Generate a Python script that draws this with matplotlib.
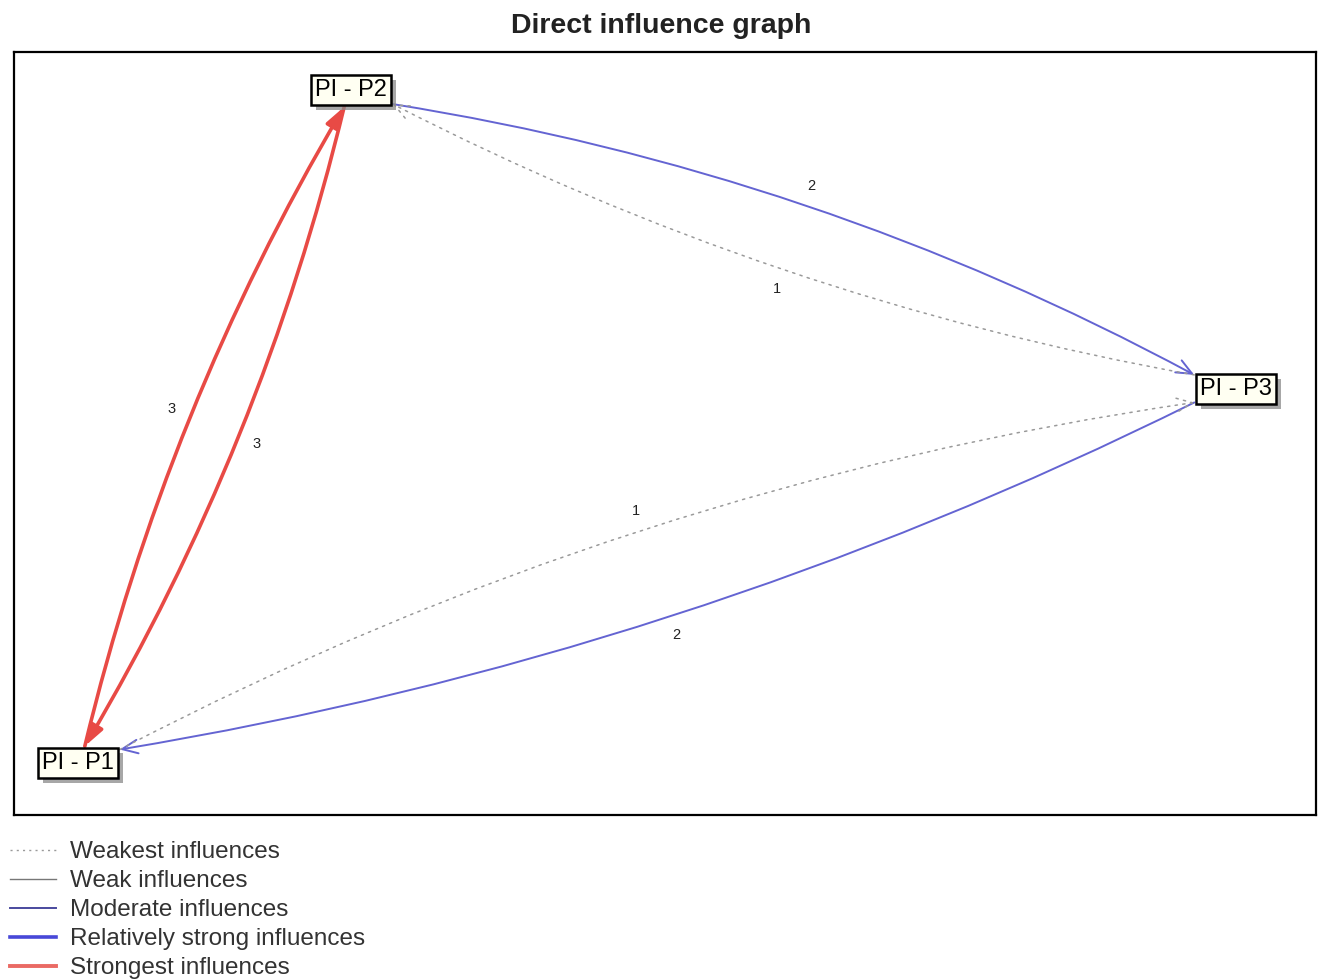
import numpy as np
import matplotlib
matplotlib.use('Agg')
import matplotlib.pyplot as plt
from matplotlib.patches import FancyArrowPatch, Rectangle
from matplotlib.lines import Line2D

plt.rcParams['font.family'] = ['Liberation Sans', 'DejaVu Sans']

# nodes and their place on the map
nodes = ['PI - P1', 'PI - P2', 'PI - P3']
node_x = [78, 351, 1236]
node_y = [763, 90, 389]

# direct influences between nodes
edge_src = ['PI - P1', 'PI - P2', 'PI - P2', 'PI - P3', 'PI - P3', 'PI - P1']
edge_dst = ['PI - P2', 'PI - P1', 'PI - P3', 'PI - P2', 'PI - P1', 'PI - P3']
edge_w = [3, 3, 2, 1, 2, 1]
bend = [-0.075, -0.075, -0.085, -0.075, -0.075, -0.085]

legend_labels = ['Weakest influences', 'Weak influences', 'Moderate influences',
                 'Relatively strong influences', 'Strongest influences']

style = {
    1: dict(color='#9a9a9a', lw=1.1, ls=(0, (1.5, 3.5)), arrow='->', hw=0.35, hl=0.8),
    2: dict(color='#6464d2', lw=1.4, ls='-', arrow='->', hw=0.35, hl=0.8),
    3: dict(color='#e84a45', lw=2.6, ls='-', arrow='-|>', hw=0.3, hl=0.9),
}

fig = plt.figure(figsize=(13.22, 9.8), dpi=100)
ax = fig.add_axes([14 / 1322, 1 - 815 / 980, 1302 / 1322, 763 / 980])
ax.set_xlim(14, 1316)
ax.set_ylim(815, 52)
ax.set_xticks([])
ax.set_yticks([])
for s in ax.spines.values():
    s.set_linewidth(1.6)
    s.set_color('black')

fig.suptitle('Direct influence graph', y=1 - 26 / 980, va='center',
             fontsize=20.5, fontweight='bold', color='#222222')

pos = {n: (x, y) for n, x, y in zip(nodes, node_x, node_y)}
boxes = {}
for n in nodes:
    x, y = pos[n]
    t = ax.text(x, y, n, ha='center', va='center', fontsize=17, color='black', zorder=5,
                bbox=dict(boxstyle='square,pad=0.16', fc='#fffff2', ec='black', lw=1.8))
    boxes[n] = t

fig.canvas.draw()
r = fig.canvas.get_renderer()
inv = ax.transData.inverted()

# drop shadow under each node box
for n in nodes:
    bb = boxes[n].get_bbox_patch().get_window_extent(r)
    p0 = inv.transform((bb.x0 + 5, bb.y0 - 5))
    p1 = inv.transform((bb.x1 + 5, bb.y1 - 5))
    ax.add_patch(Rectangle((min(p0[0], p1[0]), min(p0[1], p1[1])),
                           abs(p1[0] - p0[0]), abs(p1[1] - p0[1]),
                           fc='#8a8a8a', ec='none', alpha=0.75, zorder=4))


def clip_point(n, other):
    # point where the straight line between node centres leaves the node box
    bb = boxes[n].get_bbox_patch().get_window_extent(r)
    c = np.array(ax.transData.transform(pos[n]))
    o = np.array(ax.transData.transform(pos[other]))
    d = o - c
    hw, hh = bb.width / 2 + 2, bb.height / 2 + 2
    k = min(hw / abs(d[0]) if d[0] else np.inf, hh / abs(d[1]) if d[1] else np.inf)
    return c + d * k


for s, t, w, rad in zip(edge_src, edge_dst, edge_w, bend):
    st = style[w]
    a = clip_point(s, t)
    b = clip_point(t, s)
    arr = FancyArrowPatch(inv.transform(a), inv.transform(b),
                          connectionstyle=f'arc3,rad={rad}',
                          arrowstyle=f"{st['arrow']},head_width={st['hw']},head_length={st['hl']}",
                          mutation_scale=14, color=st['color'], lw=st['lw'], ls=st['ls'],
                          shrinkA=0, shrinkB=0, zorder=2)
    ax.add_patch(arr)
    # weight label beside the middle of the arc
    d = b - a
    ctrl = (a + b) / 2 + rad * np.array([d[1], -d[0]])
    mid = 0.25 * a + 0.5 * ctrl + 0.25 * b
    nrm = ctrl - (a + b) / 2
    nrm = nrm / np.linalg.norm(nrm)
    lp = mid + nrm * 20
    ax.text(*inv.transform(lp), str(w), ha='center', va='center', fontsize=10.5,
            color='#222222', zorder=3)

handles = [
    Line2D([], [], color='#9a9a9a', lw=1.0, ls=(0, (1.5, 3))),
    Line2D([], [], color='#777777', lw=1.0),
    Line2D([], [], color='#4a4a9e', lw=1.4),
    Line2D([], [], color='#4848d8', lw=2.6),
    Line2D([], [], color='#ea6a64', lw=2.8),
]
fig.legend(handles, legend_labels, loc='upper left',
           bbox_to_anchor=(10 / 1322, 1 - 841 / 980),
           frameon=False, fontsize=17.5, handlelength=1.9, handletextpad=0.55,
           labelspacing=0.29, borderaxespad=0, borderpad=0, labelcolor='#333333')

fig.savefig('out.png', dpi=100)
